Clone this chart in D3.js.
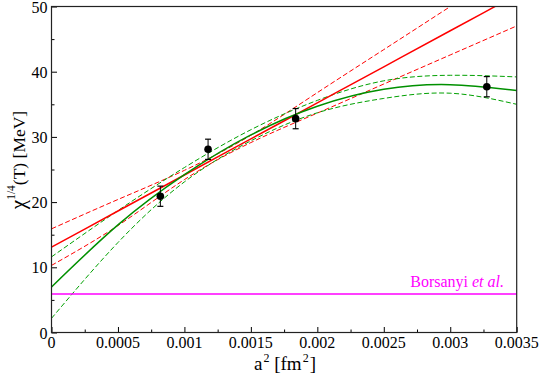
<!DOCTYPE html>
<html>
<head>
<meta charset="utf-8">
<script src="https://cdn.jsdelivr.net/npm/d3@7"></script>
<style>
  body { margin: 0; background: #fff; }
  svg { display: block; }
  text { font-family: 'Liberation Serif', 'Times New Roman', serif; }
</style>
</head>
<body>
<script>
// data
const pointsX = [0.000819, 0.001178, 0.001837, 0.003275];
const pointsY = [20.9, 28.1, 32.8, 37.7];
const pointsErr = [1.55, 1.55, 1.55, 1.55];

// fit curves sampled along a^2
const curveX = [0, 0.0005, 0.001, 0.0015, 0.002, 0.0025, 0.003, 0.0035];
const linearFit = [13.1, 18.63, 24.16, 29.69, 35.22, 40.75, 46.28, 51.81];
const linearUpper = [15.9, 20.4, 24.87, 30.25, 36.79, 43.39, 49.99, 56.6];
const linearLower = [10.29, 16.4, 23.45, 29.13, 33.65, 38.11, 42.57, 47.02];
const quadFit = [6.98, 16.5, 24.2, 30.3, 34.7, 37.3, 38.0, 37.1];
const quadUpper = [11.6, 18.7, 25.3, 31.1, 35.6, 38.6, 39.45, 39.2];
const quadLower = [2.17, 13.8, 23.1, 29.4, 33.7, 35.9, 36.7, 35.0];

const borsanyi = 5.9;

const xTicks = [0, 0.0005, 0.001, 0.0015, 0.002, 0.0025, 0.003, 0.0035];
const xTickLabels = ["0", "0.0005", "0.001", "0.0015", "0.002", "0.0025", "0.003", "0.0035"];
const yTicks = [0, 10, 20, 30, 40, 50];

const width = 540, height = 379;
const margin = { left: 51.5, right: 23.3, top: 6.5, bottom: 46.5 };

const svg = d3.select('body').append('svg')
  .attr('width', width)
  .attr('height', height);

const x = d3.scaleLinear().domain([0, 0.0035]).range([margin.left, width - margin.right]);
const y = d3.scaleLinear().domain([0, 50]).range([height - margin.bottom, margin.top]);

svg.append('clipPath').attr('id', 'plot')
  .append('rect')
  .attr('x', x(0)).attr('y', y(50))
  .attr('width', x(0.0035) - x(0)).attr('height', y(0) - y(50));

const plot = svg.append('g').attr('clip-path', 'url(#plot)');

const line = d3.line()
  .x(d => x(d[0]))
  .y(d => y(d[1]))
  .curve(d3.curveNatural);

const series = [
  { values: linearUpper, color: '#ff0000', width: 1, dash: '5,2.5' },
  { values: linearLower, color: '#ff0000', width: 1, dash: '5,2.5' },
  { values: quadUpper, color: '#00a000', width: 1, dash: '5,2.5' },
  { values: quadLower, color: '#00a000', width: 1, dash: '5,2.5' },
  { values: linearFit, color: '#ff0000', width: 1.5, dash: null },
  { values: quadFit, color: '#009000', width: 1.5, dash: null }
];

plot.selectAll('.fit')
  .data(series)
  .enter().append('path')
  .attr('class', 'fit')
  .attr('fill', 'none')
  .attr('stroke', d => d.color)
  .attr('stroke-width', d => d.width)
  .attr('stroke-dasharray', d => d.dash)
  .attr('d', d => line(curveX.map((cx, i) => [cx, d.values[i]])));

// Borsanyi et al. reference value
plot.append('line')
  .attr('x1', x(0)).attr('x2', x(0.0035))
  .attr('y1', y(borsanyi)).attr('y2', y(borsanyi))
  .attr('stroke', '#ff00ff')
  .attr('stroke-width', 1.5);

const lab = svg.append('text')
  .attr('x', 504)
  .attr('y', y(borsanyi) - 7)
  .attr('text-anchor', 'end')
  .style('font-size', '16px')
  .style('fill', '#ff00ff');
lab.append('tspan').text('Borsanyi ');
lab.append('tspan').style('font-style', 'italic').text('et al.');

// data points with error bars
const pts = svg.selectAll('.pt')
  .data(pointsX.map((px, i) => ({ x: px, y: pointsY[i], e: pointsErr[i] })))
  .enter().append('g')
  .attr('class', 'pt');

pts.append('line')
  .attr('x1', d => x(d.x)).attr('x2', d => x(d.x))
  .attr('y1', d => y(d.y - d.e)).attr('y2', d => y(d.y + d.e))
  .attr('stroke', '#000').attr('stroke-width', 1);
pts.append('line')
  .attr('x1', d => x(d.x) - 3).attr('x2', d => x(d.x) + 3)
  .attr('y1', d => y(d.y + d.e)).attr('y2', d => y(d.y + d.e))
  .attr('stroke', '#000').attr('stroke-width', 1.2);
pts.append('line')
  .attr('x1', d => x(d.x) - 3).attr('x2', d => x(d.x) + 3)
  .attr('y1', d => y(d.y - d.e)).attr('y2', d => y(d.y - d.e))
  .attr('stroke', '#000').attr('stroke-width', 1.2);
pts.append('circle')
  .attr('cx', d => x(d.x)).attr('cy', d => y(d.y))
  .attr('r', 3.8)
  .attr('fill', '#000');

// axes, ticks pointing inward
const xAxis = svg.append('g')
  .attr('transform', `translate(0,${y(0)})`)
  .call(d3.axisBottom(x).tickValues(d3.range(0, 0.00351, 0.00025)).tickSize(-3).tickFormat(''));
xAxis.call(g => g.select('.domain').remove());
xAxis.selectAll('.tick line')
  .attr('y2', (d, i) => i % 2 === 0 ? -5.5 : -3)
  .attr('stroke', '#000');

svg.append('g')
  .attr('transform', `translate(0,${y(0)})`)
  .selectAll('text')
  .data(xTicks)
  .enter().append('text')
  .attr('x', d => x(d))
  .attr('y', 15.5)
  .attr('text-anchor', 'middle')
  .style('font-size', '16px')
  .text((d, i) => xTickLabels[i]);

const yAxis = svg.append('g')
  .attr('transform', `translate(${x(0)},0)`)
  .call(d3.axisLeft(y).tickValues(d3.range(0, 51, 5)).tickSize(-3).tickFormat(''));
yAxis.call(g => g.select('.domain').remove());
yAxis.selectAll('.tick line')
  .attr('x2', (d, i) => i % 2 === 0 ? 5.5 : 3)
  .attr('stroke', '#000');

svg.append('g')
  .selectAll('text')
  .data(yTicks)
  .enter().append('text')
  .attr('x', x(0) - 4)
  .attr('y', d => y(d) + 6)
  .attr('text-anchor', 'end')
  .style('font-size', '16px')
  .text(d => d);

// frame
svg.append('rect')
  .attr('x', x(0)).attr('y', y(50))
  .attr('width', x(0.0035) - x(0)).attr('height', y(0) - y(50))
  .attr('fill', 'none')
  .attr('stroke', '#222')
  .attr('stroke-width', 1.2);

// axis titles
const xt = svg.append('text')
  .attr('x', 285)
  .attr('y', 370)
  .attr('text-anchor', 'middle')
  .style('font-size', '19px');
xt.append('tspan').text('a');
xt.append('tspan').attr('dy', -8).attr('dx', 1).style('font-size', '12px').text('2');
xt.append('tspan').attr('dy', 8).text(' [fm');
xt.append('tspan').attr('dy', -8).attr('dx', 1).style('font-size', '12px').text('2');
xt.append('tspan').attr('dy', 8).attr('dx', 1).text(']');

const yt = svg.append('text')
  .attr('transform', 'translate(25,160) rotate(-90)')
  .attr('text-anchor', 'middle')
  .style('font-size', '17.5px');
yt.append('tspan').style('font-size', '21px').text('χ');
yt.append('tspan').attr('dy', -10).style('font-size', '11.5px').text('1/4');
yt.append('tspan').attr('dy', 10).text('(T) [MeV]');
</script>
</body>
</html>
